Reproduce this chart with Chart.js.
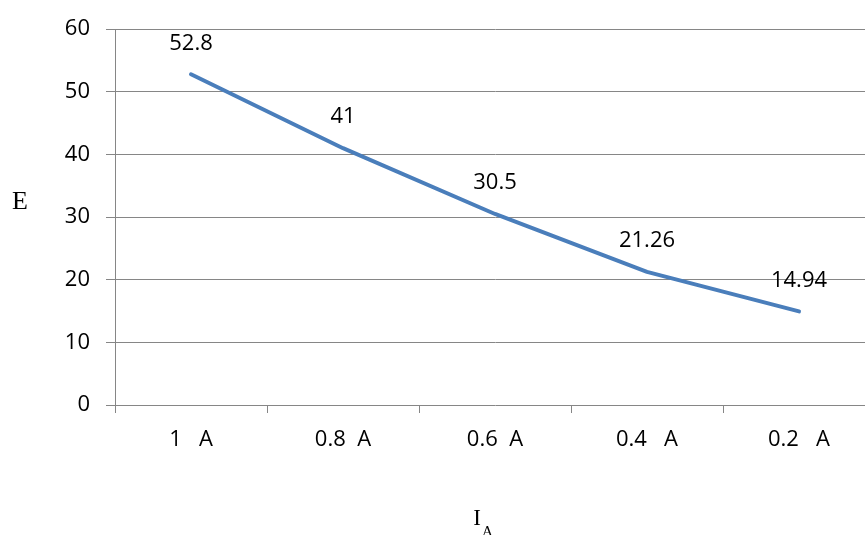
<!DOCTYPE html>
<html>
<head>
<meta charset="utf-8">
<script src="https://cdn.jsdelivr.net/npm/chart.js@4/dist/chart.umd.min.js"></script>
<style>
  html, body { margin: 0; padding: 0; background: #fff; overflow: hidden; width: 865px; height: 535px; }
  #wrap { width: 880px; height: 535px; }
</style>
</head>
<body>
<div id="wrap"><canvas id="c" width="880" height="535"></canvas></div>
<script>
const categories = ["1   A", "0.8  A", "0.6  A", "0.4   A", "0.2   A"];
const eValues = [52.8, 41, 30.5, 21.26, 14.94];
const dataLabels = ["52.8", "41", "30.5", "21.26", "14.94"];
const yTicks = [0, 10, 20, 30, 40, 50, 60];

const FONT = "'Open Sans', 'Noto Sans', sans-serif";
const GRID = '#868686';

const annotate = {
  id: 'annotate',
  afterDatasetsDraw(chart) {
    const ctx = chart.ctx;
    const meta = chart.getDatasetMeta(0);
    ctx.save();
    ctx.fillStyle = '#000';
    ctx.font = "22px " + FONT;
    ctx.textAlign = 'center';
    ctx.textBaseline = 'middle';
    meta.data.forEach((pt, i) => {
      ctx.fillText(dataLabels[i], pt.x, pt.y - 31);
    });
    // axis titles (serif)
    ctx.textBaseline = 'alphabetic';
    ctx.font = "26px 'Liberation Serif', 'DejaVu Serif', serif";
    ctx.fillText('E', 20, 209);
    ctx.font = "23px 'Liberation Serif', 'DejaVu Serif', serif";
    ctx.fillText('I', 477, 525);
    ctx.textAlign = 'left';
    ctx.font = "15px 'Liberation Serif', 'DejaVu Serif', serif";
    ctx.fillText('A', 482, 536);
    ctx.restore();
  }
};

new Chart(document.getElementById('c'), {
  type: 'line',
  data: {
    labels: categories,
    datasets: [{
      data: eValues,
      borderColor: '#4A7EBB',
      borderWidth: 4,
      borderCapStyle: 'round',
      borderJoinStyle: 'round',
      pointRadius: 0,
      pointHoverRadius: 0,
      tension: 0,
      fill: false
    }]
  },
  options: {
    responsive: false,
    animation: false,
    events: [],
    layout: { padding: { left: 0, top: 26, right: 5, bottom: 0 } },
    plugins: { legend: { display: false }, tooltip: { enabled: false } },
    scales: {
      x: {
        offset: true,
        grid: { offset: true, drawOnChartArea: false, color: GRID, tickLength: 8, lineWidth: 1 },
        border: { display: false },
        ticks: { color: '#000', font: { family: FONT, size: 22 }, padding: 14, maxRotation: 0, autoSkip: false },
        afterFit(s) { s.height = 130; }
      },
      y: {
        min: 0, max: 60,
        afterBuildTicks(s) { s.ticks = yTicks.map(v => ({ value: v })); },
        grid: { color: GRID, tickLength: 9, lineWidth: 1 },
        border: { display: true, color: GRID, width: 1 },
        ticks: { color: '#000', font: { family: FONT, size: 22 }, padding: 16 },
        afterFit(s) { s.width = 115; }
      }
    }
  },
  plugins: [annotate]
});
</script>
</body>
</html>
